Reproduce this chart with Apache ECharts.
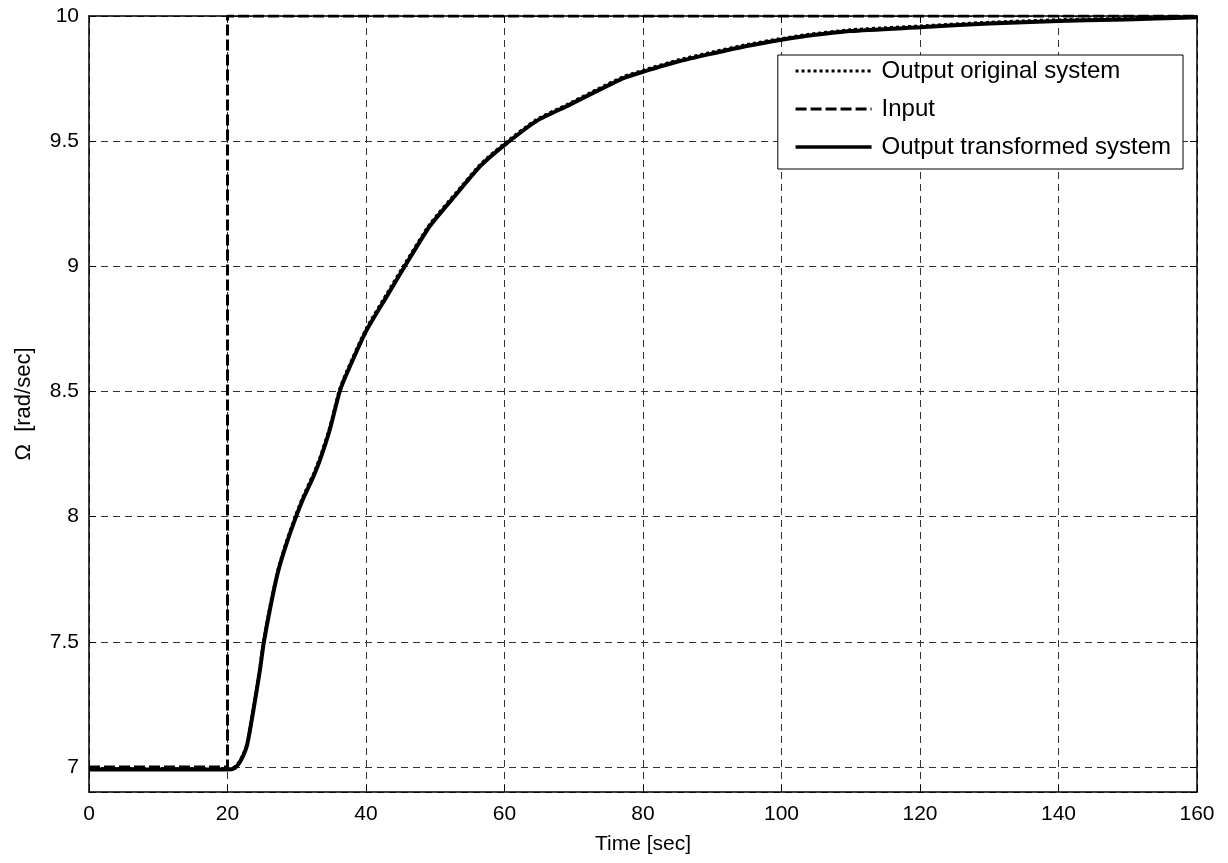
<!DOCTYPE html>
<html>
<head>
<meta charset="utf-8">
<script src="https://cdn.jsdelivr.net/npm/echarts@6/dist/echarts.min.js"></script>
<style>html,body{margin:0;padding:0;background:#fff}#c{width:1228px;height:863px}</style>
</head>
<body>
<div id="c"></div>
<script>
const time = [0, 20, 21, 21.8, 22.8, 23.7, 24.7, 25.2, 26.2, 27.3, 28.5, 29.9, 30.9, 32.4, 33.4, 34.8, 36.2, 37.2, 40, 43, 45.6, 49.2, 53.1, 56.5, 59.8, 64.6, 69, 73.3, 77.2, 80.1, 85.3, 90, 95, 100, 103.5, 110, 120, 130, 140, 148, 154, 160];
const transformed = [6.99, 6.99, 6.995, 7.02, 7.085, 7.22, 7.39, 7.49, 7.64, 7.78, 7.89, 8.0, 8.07, 8.16, 8.23, 8.35, 8.5, 8.57, 8.74, 8.88, 9.0, 9.16, 9.29, 9.4, 9.48, 9.58, 9.64, 9.7, 9.752, 9.778, 9.82, 9.85, 9.88, 9.905, 9.92, 9.94, 9.955, 9.97, 9.98, 9.985, 9.99, 9.995];
const original = [6.993, 6.993, 7.0, 7.025, 7.09, 7.23, 7.4, 7.50, 7.65, 7.79, 7.90, 8.01, 8.08, 8.17, 8.24, 8.36, 8.51, 8.58, 8.75, 8.89, 9.01, 9.168, 9.297, 9.407, 9.487, 9.586, 9.646, 9.706, 9.758, 9.784, 9.826, 9.856, 9.886, 9.91, 9.925, 9.945, 9.96, 9.975, 9.985, 9.99, 9.995, 9.998];
const inputTime = [0, 20, 20, 160];
const inputValue = [7, 7, 10, 10];
const seriesNames = ['Output original system', 'Input', 'Output transformed system'];
const xTitle = 'Time [sec]';
const yTitle = 'Ω  [rad/sec]';

const pair = (xs, ys) => xs.map((x, i) => [x, ys[i]]);
const FONT = "'Liberation Sans', Arial, sans-serif";
const chart = echarts.init(document.getElementById('c'), null, {renderer: 'canvas'});
const gridDash = {color: '#333', width: 1, type: [7, 5]};
const styles = {
  orig: {color: '#000', width: 3, type: [3, 3]},
  input: {color: '#000', width: 3, type: [11, 4]},
  trans: {color: '#000', width: 3.5, type: 'solid'}
};
chart.setOption({
  animation: false,
  backgroundColor: '#fff',
  textStyle: {fontFamily: FONT},
  grid: {left: 89, right: 31, top: 16, bottom: 71},
  xAxis: [{
    type: 'value', min: 0, max: 160, interval: 20,
    name: xTitle, nameLocation: 'middle', nameGap: 42,
    nameTextStyle: {fontSize: 21, color: '#000', fontFamily: FONT},
    axisLine: {onZero: false, lineStyle: {color: '#000', width: 1.5}},
    axisTick: {inside: true, length: 7, lineStyle: {color: '#000'}},
    axisLabel: {fontSize: 21, color: '#000', margin: 12, fontFamily: FONT},
    splitLine: {show: true, lineStyle: gridDash}
  }, {
    type: 'value', min: 0, max: 160, interval: 20, position: 'top',
    axisLine: {onZero: false, lineStyle: {color: '#000', width: 1.5}},
    axisTick: {inside: true, length: 7, lineStyle: {color: '#000'}},
    axisLabel: {show: false}, splitLine: {show: false}
  }],
  yAxis: [{
    type: 'value', min: 6.9, max: 10, splitNumber: 5,
    name: yTitle, nameLocation: 'middle', nameGap: 54,
    nameTextStyle: {fontSize: 22, color: '#000', fontFamily: FONT},
    axisLine: {onZero: false, lineStyle: {color: '#000', width: 1.5}},
    axisTick: {inside: true, length: 7, lineStyle: {color: '#000'}},
    axisLabel: {fontSize: 21, color: '#000', margin: 10, showMinLabel: false, fontFamily: FONT},
    splitLine: {show: true, lineStyle: gridDash}
  }, {
    type: 'value', min: 6.9, max: 10, splitNumber: 5, position: 'right',
    axisLine: {onZero: false, lineStyle: {color: '#000', width: 1.5}},
    axisTick: {inside: true, length: 7, lineStyle: {color: '#000'}},
    axisLabel: {show: false}, splitLine: {show: false}
  }],
  legend: {
    orient: 'vertical', right: 45, top: 55,
    backgroundColor: '#fff', borderColor: '#000', borderWidth: 1,
    padding: [4, 12, 10, 16], itemGap: 14, itemWidth: 76, itemHeight: 24,
    itemStyle: {opacity: 0},
    textStyle: {fontSize: 24, color: '#000', fontFamily: FONT, padding: [0, 0, 0, 5]},
    data: [
      {name: seriesNames[0], lineStyle: styles.orig, itemStyle: {opacity: 0}},
      {name: seriesNames[1], lineStyle: styles.input, itemStyle: {opacity: 0}},
      {name: seriesNames[2], lineStyle: styles.trans, itemStyle: {opacity: 0}}
    ]
  },
  series: [{
    name: seriesNames[2], type: 'line', data: pair(time, transformed),
    symbol: 'none', z: 3, smooth: 0.2,
    lineStyle: {color: '#000', width: 4, type: 'solid'}, itemStyle: {color: '#000'}
  }, {
    name: seriesNames[0], type: 'line', data: pair(time, original),
    symbol: 'none', z: 4, smooth: 0.2,
    lineStyle: styles.orig, itemStyle: {color: '#000'}
  }, {
    name: seriesNames[1], type: 'line', data: pair(inputTime, inputValue),
    symbol: 'none', z: 5,
    lineStyle: styles.input, itemStyle: {color: '#000'}
  }]
});
</script>
</body>
</html>
